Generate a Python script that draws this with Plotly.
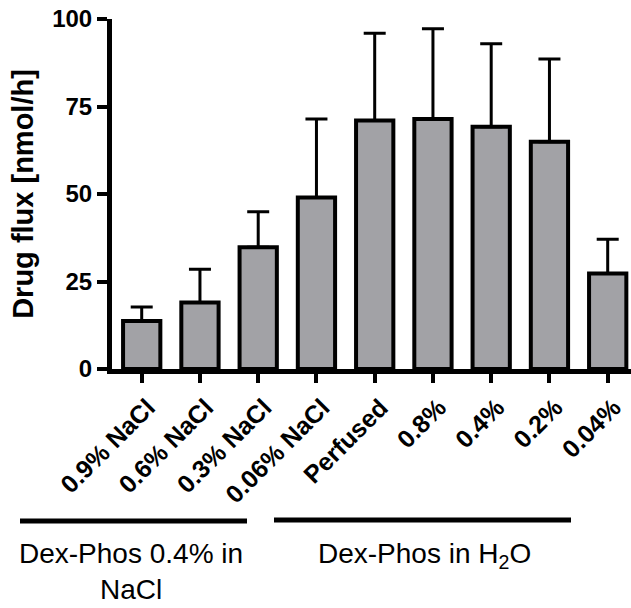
import plotly.graph_objects as go

categories = ["0.9% NaCl", "0.6% NaCl", "0.3% NaCl", "0.06% NaCl", "Perfused",
              "0.8%", "0.4%", "0.2%", "0.04%"]
mean_flux = [13.7, 19.0, 34.8, 49.0, 71.0, 71.4, 69.2, 64.9, 27.3]
sd_flux = [4.0, 9.5, 10.1, 22.4, 24.9, 25.8, 23.7, 23.7, 9.8]
y_ticks = [0, 25, 50, 75, 100]

W, H = 631, 608
L, R, T, B = 112, 0, 19, 239
pw, ph = W - L - R, H - T - B


def px(x):
    return (x - L) / pw


def py(y):
    return (H - B - y) / ph


FAMILY = "Arial, Liberation Sans, sans-serif"

fig = go.Figure(go.Bar(
    x=list(range(len(categories))),
    y=mean_flux,
    width=0.64,
    marker=dict(color="#a2a2a6", line=dict(color="black", width=4)),
    error_y=dict(type="data", array=sd_flux, arrayminus=[0] * len(sd_flux),
                 symmetric=False, color="black", thickness=3, width=11),
))

fig.update_layout(
    width=W, height=H,
    margin=dict(l=L, r=R, t=T, b=B, pad=0),
    plot_bgcolor="white", paper_bgcolor="white",
    showlegend=False,
)

fig.update_xaxes(
    range=[-0.51, 8.4],
    tickmode="array", tickvals=list(range(len(categories))), ticktext=categories,
    tickangle=-45, ticklabelshift=6,
    tickfont=dict(family=FAMILY, size=25, color="black", weight="bold"),
    ticks="outside", ticklen=9, tickwidth=4, tickcolor="black",
    showline=True, linecolor="black", linewidth=5,
    showgrid=False, zeroline=False,
)
fig.update_yaxes(
    range=[0, 100],
    tickmode="array", tickvals=y_ticks,
    tickfont=dict(family=FAMILY, size=24, color="black", weight="bold"),
    ticks="outside", ticklen=10, tickwidth=4, tickcolor="black",
    showline=True, linecolor="black", linewidth=5,
    showgrid=False, zeroline=False,
    title=dict(text="Drug flux [nmol/h]", standoff=12,
               font=dict(family=FAMILY, size=29, color="black", weight="bold")),
)

# Group brackets under the category labels
fig.add_shape(type="line", xref="paper", yref="paper",
              x0=px(20), x1=px(247), y0=py(521), y1=py(521),
              line=dict(color="black", width=5))
fig.add_shape(type="line", xref="paper", yref="paper",
              x0=px(274), x1=px(571), y0=py(520), y1=py(520),
              line=dict(color="black", width=5))

group_font = dict(family=FAMILY, size=28, color="black")
fig.add_annotation(xref="paper", yref="paper", x=px(131), y=py(536),
                   text="Dex-Phos 0.4% in<br>NaCl", showarrow=False,
                   xanchor="center", yanchor="top", font=group_font, align="center")
fig.add_annotation(xref="paper", yref="paper", x=px(424), y=py(536),
                   text="Dex-Phos in H<sub>2</sub>O", showarrow=False,
                   xanchor="center", yanchor="top", font=group_font, align="center")

fig.write_html("out.html")
